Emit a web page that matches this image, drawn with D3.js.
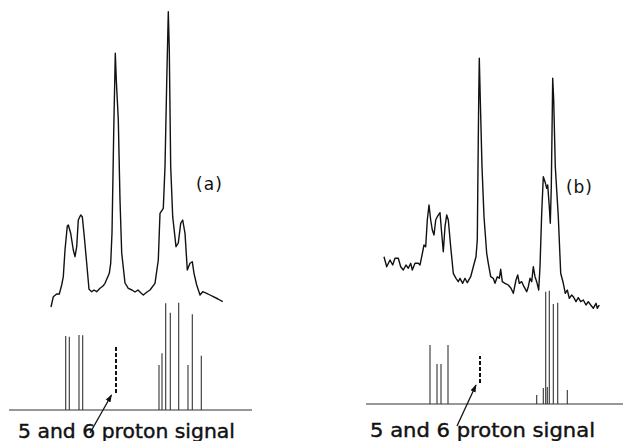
<!DOCTYPE html>
<html><head><meta charset="utf-8">
<script src="https://cdn.jsdelivr.net/npm/d3@7"></script>
<style>html,body{margin:0;padding:0;background:#fff;}svg{display:block;}</style>
</head><body>
<script>
// ---- Data (arbitrary shift units, intensity units) ----
const panels = ["(a)", "(b)"];
const annotation = "5 and 6 proton signal";

// Observed spectrum (a): [shift, intensity]
const traceA = [[46,13],[48.3,23.3],[51.7,26],[54.3,26],[56.7,35],[58.3,43.3],[60,70],[62.3,94],[63.3,95],[65.7,86.7],[68.3,70],[70,63.3],[71.7,73.3],[73.3,100],[75.7,105],[77.3,103.3],[79.3,83.3],[81.7,56.7],[84,30.7],[86.7,28.3],[89,30],[91.7,28.3],[95,31.7],[98,34],[100,36.7],[104.3,46.7],[105.7,56.7],[107,87],[108.7,187],[110.3,266.7],[111.3,240],[113.3,200],[115,120],[116.7,67],[120,37],[123.3,31.7],[127,30],[130,28],[133,30],[136,27],[138.3,25],[142,28],[145,30],[150,36.7],[153.3,60],[155,106.7],[158.3,111.7],[160,153.3],[161.7,237],[163.3,308.3],[164.3,270],[165.7,153.3],[167.7,103.3],[171,73.3],[173.3,77],[175.7,96.7],[177.7,100],[180,86.7],[182.3,50],[185,56.7],[187.3,58.3],[189,46.7],[191.7,35],[195,25],[197.7,28.3],[201.7,26.7],[205,25],[208.3,23.3],[213,21],[217.7,18.3]];

// Observed spectrum (b): [shift, intensity]
const traceB = [[19,63.3],[21.7,53.3],[25,60],[27.7,55],[30,61.7],[33.3,61.7],[35.7,53.3],[38.3,50],[41,55],[43.3,51.7],[45.7,56.7],[47.3,50],[50,56.7],[53.3,56.7],[55,55],[56.7,63.3],[59,75],[60.7,73.3],[62.3,100],[64,115],[65.7,100],[67.3,90],[69,85],[70.7,100],[72.3,103.3],[75,107.3],[76.7,86.7],[78.3,68.3],[80,93.3],[81.7,105],[83.3,100],[85.7,73.3],[88.3,46.7],[91,41.7],[93.3,38.3],[95,41.7],[97.7,36.7],[100,41.7],[102.3,37.3],[105.7,43.3],[108.3,53.3],[111,63.3],[112.3,80],[113,153.3],[113.7,220],[114.3,261.7],[115.3,220],[117,153.3],[119,103.3],[121.7,66.7],[123.3,56.7],[125.7,43.3],[128.3,41.7],[130,36.7],[132.3,43.3],[134.3,41.7],[135.7,50.7],[137.3,38.3],[140,36.7],[143.3,35],[146,31.7],[148.3,26.7],[151,40],[152.7,45],[154.3,36.7],[156.7,38.3],[159,33.3],[161.7,28.3],[163.3,33.3],[165,41.7],[166.7,38.3],[168.3,53.3],[170,43.3],[171.7,38.3],[173.7,30],[175,53.3],[176.7,106.7],[178.3,143.3],[180,138.3],[181.7,131.7],[182.7,135],[184.3,113.3],[185.3,96.7],[186.3,133.3],[187,186.7],[187.7,241.7],[188.7,220],[190.3,153.3],[193.3,103.3],[195.7,46.7],[198.3,36.7],[200.3,26.7],[202.3,30],[204.3,21.7],[206.7,25],[208.3,23.3],[211,18.3],[213.3,22.3],[215.7,18.3],[218.3,20],[221,15],[223.3,18.3],[225.7,15],[228.3,11.7],[231,16.7],[232.3,11.7],[234.3,15]];

// Calculated stick spectra: shift positions and relative heights
const sticksAPos = [60.7, 64.3, 74, 77.7, 154, 157, 160.7, 165.3, 173.7, 183, 187.3, 196.3];
const sticksAHgt = [74, 73.3, 75, 74.7, 45, 56.7, 106.7, 97.3, 107.3, 45, 95.7, 54.3];
const sticksBPos = [65, 72, 76, 83, 171.7, 178.3, 180.7, 182.3, 184.3, 188.3, 192.7, 202.3];
const sticksBHgt = [59, 40, 40, 59, 9, 16, 112.3, 17, 113.3, 100, 101.3, 14];

// 5,6 proton signal (dashed) : [shift, lowHeight, highHeight]
const signalA = [111, 17, 65];
const signalB = [115, 21, 48];
// stick baseline extent
const baseA = [4, 247];
const baseB = [1, 258];
// arrow: [headShift, headH, tailShift, tailH]
const arrowA = [106.5, 15, 85, -23];
const arrowB = [111, 19, 92, -22];

// ---- Drawing ----
const W = 636, H = 441;
const svg = d3.select("body").append("svg").attr("width", W).attr("height", H);

svg.append("defs").append("marker")
  .attr("id","ah").attr("viewBox","0 0 10 10").attr("refX",9).attr("refY",5)
  .attr("markerWidth",6).attr("markerHeight",6).attr("orient","auto")
  .append("path").attr("d","M0,1.5 L10,5 L0,8.5 Z").attr("fill","#111");

const cfg = [
  {trace: traceA, pos: sticksAPos, hgt: sticksAHgt, sig: signalA, base: baseA, arrow: arrowA,
   xDom:[0,250], xRange:[5,255], stickBase:410, label: panels[0], labelX:209, labelY:190,
   textX:18, textW:217, textY:438},
  {trace: traceB, pos: sticksBPos, hgt: sticksBHgt, sig: signalB, base: baseB, arrow: arrowB,
   xDom:[0,260], xRange:[365,625], stickBase:404, label: panels[1], labelX:579, labelY:193,
   textX:370, textW:225, textY:437}
];

cfg.forEach(c => {
  const x = d3.scaleLinear().domain(c.xDom).range(c.xRange);
  const yT = d3.scaleLinear().domain([0,300]).range([320,20]);
  const yS = d3.scaleLinear().domain([0,100]).range([c.stickBase, c.stickBase-100]);
  const g = svg.append("g");

  g.append("path").datum(c.trace)
    .attr("d", d3.line().x(d=>x(d[0])).y(d=>yT(d[1])))
    .attr("fill","none").attr("stroke","#111").attr("stroke-width",1.4)
    .attr("stroke-linejoin","round");

  g.append("line")
    .attr("x1", x(c.base[0])).attr("x2", x(c.base[1]))
    .attr("y1", yS(0)).attr("y2", yS(0))
    .attr("stroke","#333").attr("stroke-width",1.2);

  g.selectAll("line.stick").data(c.pos.map((p,i)=>[p,c.hgt[i]])).enter()
    .append("line").attr("class","stick")
    .attr("x1", d=>x(d[0])).attr("x2", d=>x(d[0]))
    .attr("y1", yS(0)).attr("y2", d=>yS(d[1]))
    .attr("stroke","#333").attr("stroke-width",1.1);

  g.append("line")
    .attr("x1", x(c.sig[0])).attr("x2", x(c.sig[0]))
    .attr("y1", yS(c.sig[1])).attr("y2", yS(c.sig[2]))
    .attr("stroke","#111").attr("stroke-width",2).attr("stroke-dasharray","4,2");

  g.append("line")
    .attr("x1", x(c.arrow[2])).attr("y1", yS(c.arrow[3]))
    .attr("x2", x(c.arrow[0])).attr("y2", yS(c.arrow[1]))
    .attr("stroke","#111").attr("stroke-width",1.3).attr("marker-end","url(#ah)");

  g.append("text").attr("x", c.labelX).attr("y", c.labelY)
    .attr("text-anchor","middle")
    .attr("font-family","DejaVu Sans, sans-serif").attr("font-size",17)
    .attr("textLength", 26).attr("lengthAdjust","spacing")
    .attr("fill","#111").text(c.label);

  g.append("text").attr("x", c.textX).attr("y", c.textY)
    .attr("font-family","DejaVu Sans, sans-serif").attr("font-size",19)
    .attr("textLength", c.textW).attr("lengthAdjust","spacingAndGlyphs")
    .attr("fill","#111").attr("stroke","#111").attr("stroke-width",0.4)
    .text(annotation);
});
</script>
</body></html>
